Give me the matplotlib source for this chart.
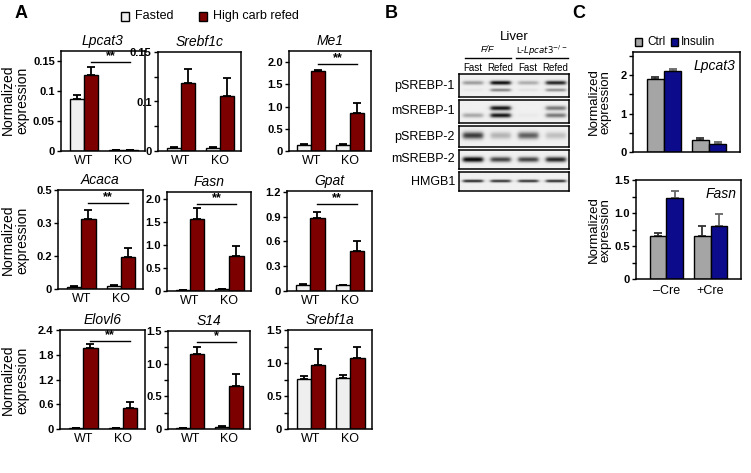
import numpy as np
import matplotlib.pyplot as plt

plt.rcParams['font.family'] = ['Liberation Sans', 'DejaVu Sans']

# -------------------------
# Panel A data (qPCR, liver)
# -------------------------
groups = ['WT', 'KO']
genes_a = ['Lpcat3', 'Srebf1c', 'Me1', 'Acaca', 'Fasn', 'Gpat', 'Elovl6', 'S14', 'Srebf1a']

fasted = {'Lpcat3': [0.087, 0.001], 'Srebf1c': [0.007, 0.007], 'Me1': [0.13, 0.14],
          'Acaca': [0.011, 0.013], 'Fasn': [0.02, 0.04], 'Gpat': [0.075, 0.07],
          'Elovl6': [0.03, 0.03], 'S14': [0.015, 0.03], 'Srebf1a': [0.76, 0.77]}
fasted_err = {'Lpcat3': [0.006, 0.0], 'Srebf1c': [0.001, 0.001], 'Me1': [0.02, 0.02],
              'Acaca': [0.002, 0.003], 'Fasn': [0.005, 0.01], 'Gpat': [0.01, 0.008],
              'Elovl6': [0.005, 0.005], 'S14': [0.004, 0.01], 'Srebf1a': [0.05, 0.05]}
refed = {'Lpcat3': [0.126, 0.001], 'Srebf1c': [0.138, 0.112], 'Me1': [1.81, 0.85],
         'Acaca': [0.32, 0.147], 'Fasn': [1.57, 0.77], 'Gpat': [0.88, 0.48],
         'Elovl6': [1.96, 0.50], 'S14': [1.15, 0.665], 'Srebf1a': [0.97, 1.07]}
refed_err = {'Lpcat3': [0.014, 0.0], 'Srebf1c': [0.028, 0.036], 'Me1': [0.02, 0.24],
             'Acaca': [0.04, 0.04], 'Fasn': [0.24, 0.2], 'Gpat': [0.07, 0.13],
             'Elovl6': [0.09, 0.15], 'S14': [0.1, 0.175], 'Srebf1a': [0.24, 0.17]}
# significance: (height, stars)
signif = {'Lpcat3': (0.148, '**'), 'Me1': (1.96, '**'), 'Acaca': (0.39, '**'),
          'Fasn': (1.88, '**'), 'Gpat': (1.05, '**'), 'Elovl6': (2.13, '**'),
          'S14': (1.33, '*')}
# y axis: limit, tick positions, tick labels (labels as printed in the figure)
ylims = {'Lpcat3': 0.1667, 'Srebf1c': 0.2, 'Me1': 2.25, 'Acaca': 0.45, 'Fasn': 2.15,
         'Gpat': 1.21, 'Elovl6': 2.4, 'S14': 1.5, 'Srebf1a': 1.5}
yticks = {'Lpcat3': [0, 0.05, 0.1, 0.15], 'Srebf1c': [0, 0.05, 0.1, 0.15, 0.2],
          'Me1': [0, 0.5, 1.0, 1.5, 2.0], 'Acaca': [0, 0.15, 0.3, 0.45],
          'Fasn': [0, 0.5, 1.0, 1.5, 2.0], 'Gpat': [0, 0.3, 0.6, 0.9, 1.2],
          'Elovl6': [0, 0.6, 1.2, 1.8, 2.4], 'S14': [0, 0.25, 0.5, 0.75, 1.0, 1.25, 1.5],
          'Srebf1a': [0, 0.25, 0.5, 0.75, 1.0, 1.25, 1.5]}
ytlabels = {'Lpcat3': ['0', '0.05', '0.1', '0.15'], 'Srebf1c': ['0', '', '0.1', '', '0.15'],
            'Me1': ['0', '0.5', '1.0', '1.5', '2.0'], 'Acaca': ['0', '0.2', '0.3', '0.5'],
            'Fasn': ['0', '0.5', '1.0', '1.5', '2.0'], 'Gpat': ['0', '0.3', '0.6', '0.9', '1.2'],
            'Elovl6': ['0', '0.6', '1.2', '1.8', '2.4'], 'S14': ['0', '', '0.5', '', '1.0', '', '1.5'],
            'Srebf1a': ['0', '', '0.5', '', '1.0', '', '1.5']}

# -------------------------
# Panel B data (western blot band intensities, 4 lanes)
# -------------------------
blot_rows = ['pSREBP-1', 'mSREBP-1', 'pSREBP-2', 'mSREBP-2', 'HMGB1']
lanes = ['Fast', 'Refed', 'Fast', 'Refed']
psrebp1_upper = [0.35, 0.95, 0.28, 0.85]
psrebp1_lower = [0.04, 0.45, 0.06, 0.4]
msrebp1_upper = [0.0, 0.92, 0.0, 0.5]
msrebp1_lower = [0.3, 0.92, 0.03, 0.5]
psrebp2_band = [0.75, 0.25, 0.6, 0.2]
msrebp2_band = [1.0, 0.72, 0.72, 0.85]
hmgb1_band = [0.85, 0.8, 0.8, 0.82]

# -------------------------
# Panel C data (primary hepatocytes)
# -------------------------
cre = ['\u2013Cre', '+Cre']
c_lpcat3_ctrl = [1.9, 0.3]
c_lpcat3_ctrl_err = [0.05, 0.07]
c_lpcat3_ins = [2.1, 0.2]
c_lpcat3_ins_err = [0.05, 0.06]
c_fasn_ctrl = [0.65, 0.65]
c_fasn_ctrl_err = [0.05, 0.15]
c_fasn_ins = [1.23, 0.81]
c_fasn_ins_err = [0.11, 0.17]

# -------------------------
# figure
# -------------------------
W, H = 751, 473
fig = plt.figure(figsize=(W / 100, H / 100), dpi=100)

def px_axes(x0, y0, x1, y1):
    "axes from pixel box (top-left origin)"
    return fig.add_axes([x0 / W, 1 - y1 / H, (x1 - x0) / W, (y1 - y0) / H])

def px_text(x, y, s, **kw):
    fig.text(x / W, 1 - y / H, s, **kw)

def px_box(x, y, w, h, col):
    "legend square, pixel coords (top-left)"
    fig.patches.append(plt.Rectangle((x / W, 1 - (y + h) / H), w / W, h / H,
                                     transform=fig.transFigure, facecolor=col,
                                     edgecolor='black', lw=1))

fast_col = '#efefef'
refed_col = '#7d0000'
ctrl_col = '#a5a5a5'
ins_col = '#0b0b8c'

boxes_a = {'Lpcat3': (61, 51, 145, 151), 'Srebf1c': (158, 52, 241, 151),
           'Me1': (289, 51, 371, 151), 'Acaca': (58, 190, 143, 289),
           'Fasn': (167, 192, 251, 291), 'Gpat': (287, 191, 372, 291),
           'Elovl6': (60, 330, 145, 429), 'S14': (168, 331, 250, 429),
           'Srebf1a': (288, 330, 372, 429)}

x = np.arange(len(groups))
bw = 0.36
for g in genes_a:
    ax = px_axes(*boxes_a[g])
    ax.bar(x - bw / 2, fasted[g], bw, color=fast_col, edgecolor='black', lw=1, zorder=2)
    ax.bar(x + bw / 2, refed[g], bw, color=refed_col, edgecolor='black', lw=1, zorder=2)
    ax.errorbar(x - bw / 2, fasted[g], yerr=[np.zeros(2), fasted_err[g]], fmt='none',
                ecolor='black', elinewidth=1.3, capsize=3, capthick=1.3, zorder=1)
    ax.errorbar(x + bw / 2, refed[g], yerr=[np.zeros(2), refed_err[g]], fmt='none',
                ecolor='black', elinewidth=1.3, capsize=3, capthick=1.3, zorder=1)
    ax.set_xlim(-0.58, 1.55)
    ax.set_ylim(0, ylims[g])
    ax.set_yticks(yticks[g])
    ax.set_yticklabels(ytlabels[g], fontsize=8, fontweight='bold')
    ax.set_xticks(x)
    ax.set_xticklabels(groups, fontsize=9)
    ax.tick_params(axis='x', length=0, pad=3)
    ax.tick_params(axis='y', length=3, width=1, pad=1.5)
    for s in ax.spines.values():
        s.set_linewidth(1.1)
    ax.set_title(g, fontsize=10, style='italic', pad=4)
    if g in signif:
        h, st = signif[g]
        ax.plot([bw / 2, 1 + bw / 2], [h, h], color='black', lw=1)
        ax.text(0.5 + bw / 2, h, st, ha='center', va='bottom', fontsize=9, fontweight='bold')

for yc in [100, 240, 380]:
    px_text(15, yc, 'Normalized\nexpression', rotation=90, ha='center', va='center',
            fontsize=10, linespacing=1.0)

# panel A legend
px_text(15, 14, 'A', fontsize=13, fontweight='bold', va='center', ha='left')
px_box(121, 12, 8, 9, fast_col)
px_text(135, 16, 'Fasted', fontsize=9, va='center')
px_box(199, 12, 8, 9, refed_col)
px_text(213, 16, 'High carb refed', fontsize=9, va='center')

# -------------------------
# Panel B: blot
# -------------------------
px_text(385, 14, 'B', fontsize=13, fontweight='bold', va='center', ha='left')
px_text(514, 37, 'Liver', fontsize=9.5, ha='center', va='center')
px_text(487, 50, 'F/F', fontsize=6.5, ha='center', va='center', style='italic')
px_text(542, 51, 'L-$\\it{Lpcat3}^{-/-}$', fontsize=6.2, ha='center', va='center')
fig.add_artist(plt.Line2D([465 / W, 511 / W], [1 - 58 / H, 1 - 58 / H], color='black', lw=1))
fig.add_artist(plt.Line2D([516 / W, 568 / W], [1 - 58 / H, 1 - 58 / H], color='black', lw=1))
for i, ln in enumerate(lanes):
    px_text(459 + (i + 0.5) * 110 / 4, 68, ln, fontsize=7, ha='center', va='center')

# bands: (intensity per lane, vertical centre, vertical sigma)
blot_bands = [
    [(psrebp1_upper, 0.62, 0.09), (psrebp1_lower, 0.3, 0.07)],
    [(msrebp1_upper, 0.65, 0.1), (msrebp1_lower, 0.33, 0.1)],
    [(psrebp2_band, 0.55, 0.17)],
    [(msrebp2_band, 0.5, 0.14)],
    [(hmgb1_band, 0.5, 0.07)],
]
row_boxes = [(74, 97), (100, 123), (126, 147), (150, 169), (172, 191)]
nx, ny = 220, 60
xx = np.linspace(0, 4, nx)
yy = np.linspace(0, 1, ny)
X, Y = np.meshgrid(xx, yy)
for name, bands, (y0, y1) in zip(blot_rows, blot_bands, row_boxes):
    ax = px_axes(459, y0, 569, y1)
    img = np.full_like(X, 0.06)
    for inten, yc, sy in bands:
        for i, v in enumerate(inten):
            lane_prof = 1 / (1 + np.exp((np.abs(X - (i + 0.5)) - 0.36) / 0.04))
            img += v * lane_prof * np.exp(-((Y - yc) / sy) ** 2)
    ax.imshow(np.clip(img, 0, 1), cmap='gray_r', vmin=0, vmax=1.05, aspect='auto',
              extent=[0, 4, 0, 1], origin='lower', interpolation='bilinear')
    ax.set_xticks([])
    ax.set_yticks([])
    for s in ax.spines.values():
        s.set_linewidth(1.1)
    px_text(455, (y0 + y1) / 2, name, fontsize=9, ha='right', va='center')

# -------------------------
# Panel C
# -------------------------
px_text(572, 14, 'C', fontsize=13, fontweight='bold', va='center', ha='left')
px_box(635, 38, 7, 8, ctrl_col)
px_text(647, 42, 'Ctrl', fontsize=8.5, va='center')
px_box(671, 38, 7, 8, ins_col)
px_text(681, 42, 'Insulin', fontsize=8.5, va='center')

xc = np.arange(len(cre))
bwc = 0.38
c_panels = [('Lpcat3', (633, 52, 740, 152), c_lpcat3_ctrl, c_lpcat3_ctrl_err, c_lpcat3_ins,
             c_lpcat3_ins_err, 2.6, [0, 0.5, 1, 1.5, 2, 2.5], ['0', '', '1', '', '2', '']),
            ('Fasn', (636, 180, 741, 279), c_fasn_ctrl, c_fasn_ctrl_err, c_fasn_ins,
             c_fasn_ins_err, 1.5, [0, 0.25, 0.5, 0.75, 1.0, 1.25, 1.5],
             ['0', '', '0.5', '', '1.0', '', '1.5'])]
for gname, box, cv, ce, iv, ie, ytop, ytk, ytl in c_panels:
    ax = px_axes(*box)
    ax.bar(xc - bwc / 2, cv, bwc, color=ctrl_col, edgecolor='black', lw=1, zorder=2)
    ax.bar(xc + bwc / 2, iv, bwc, color=ins_col, edgecolor='black', lw=1, zorder=2)
    ax.errorbar(xc - bwc / 2, cv, yerr=[np.zeros(2), ce], fmt='none', ecolor='#333333',
                elinewidth=1.3, capsize=3, capthick=1.3, zorder=1)
    ax.errorbar(xc + bwc / 2, iv, yerr=[np.zeros(2), ie], fmt='none', ecolor='#666666',
                elinewidth=1.3, capsize=3, capthick=1.3, zorder=1)
    ax.set_xlim(-0.69, 1.69)
    ax.set_ylim(0, ytop)
    ax.set_yticks(ytk)
    ax.set_yticklabels(ytl, fontsize=8, fontweight='bold')
    ax.tick_params(axis='y', length=3, width=1, pad=1.5)
    ax.tick_params(axis='x', length=0, pad=4)
    for s in ax.spines.values():
        s.set_linewidth(1.1)
    ax.text(0.96, 0.93, gname, transform=ax.transAxes, ha='right', va='top',
            fontsize=10, style='italic')
    if gname == 'Fasn':
        ax.set_xticks(xc)
        ax.set_xticklabels(cre, fontsize=9)
    else:
        ax.set_xticks([])

for yc in [102, 230]:
    px_text(600, yc, 'Normalized\nexpression', rotation=90, ha='center', va='center',
            fontsize=9.5, linespacing=0.95)

fig.savefig('out.png', dpi=100)
